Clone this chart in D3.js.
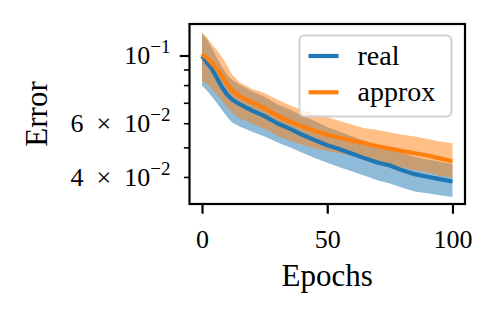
<!DOCTYPE html>
<html>
<head>
<meta charset="utf-8">
<script src="https://cdn.jsdelivr.net/npm/d3@7"></script>
<style>
  body { margin: 0; background: #fff; }
  text { font-family: "Liberation Serif", "DejaVu Serif", serif; fill: #000; }
</style>
</head>
<body>
<div class="chart"></div>
<script>
// data
var epochs   = [0, 2, 4, 6, 8, 10, 12, 15, 20, 25, 30, 35, 40, 45, 50, 55, 60, 65, 70, 75, 80, 85, 90, 95, 100];
var realMean = [0.1000, 0.0950, 0.0905, 0.0845, 0.0790, 0.0748, 0.0720, 0.0695, 0.0662, 0.0635, 0.0602, 0.0578, 0.0552, 0.0530, 0.0510, 0.0495, 0.0478, 0.0462, 0.0448, 0.0438, 0.0422, 0.0410, 0.0402, 0.0395, 0.0388];
var realLo   = [0.0800, 0.0770, 0.0735, 0.0700, 0.0665, 0.0632, 0.0605, 0.0588, 0.0565, 0.0545, 0.0522, 0.0502, 0.0482, 0.0463, 0.0447, 0.0432, 0.0418, 0.0405, 0.0392, 0.0382, 0.0370, 0.0360, 0.0355, 0.0350, 0.0345];
var realHi   = [0.1190, 0.1130, 0.1060, 0.0985, 0.0920, 0.0870, 0.0835, 0.0805, 0.0765, 0.0735, 0.0695, 0.0668, 0.0638, 0.0612, 0.0585, 0.0565, 0.0545, 0.0527, 0.0510, 0.0497, 0.0480, 0.0467, 0.0458, 0.0450, 0.0442];
var apxMean  = [0.1015, 0.0985, 0.0945, 0.0905, 0.0860, 0.0810, 0.0772, 0.0738, 0.0705, 0.0675, 0.0637, 0.0610, 0.0588, 0.0568, 0.0552, 0.0540, 0.0528, 0.0518, 0.0506, 0.0497, 0.0488, 0.0480, 0.0472, 0.0462, 0.0452];
var apxLo    = [0.0825, 0.0810, 0.0780, 0.0745, 0.0715, 0.0680, 0.0652, 0.0625, 0.0600, 0.0578, 0.0548, 0.0528, 0.0512, 0.0498, 0.0488, 0.0480, 0.0470, 0.0460, 0.0450, 0.0440, 0.0430, 0.0422, 0.0415, 0.0405, 0.0399];
var apxHi    = [0.1190, 0.1150, 0.1090, 0.1045, 0.0990, 0.0930, 0.0870, 0.0820, 0.0780, 0.0755, 0.0720, 0.0690, 0.0665, 0.0645, 0.0630, 0.0612, 0.0595, 0.0580, 0.0572, 0.0562, 0.0552, 0.0545, 0.0535, 0.0525, 0.0518];

var xTicks = [0, 50, 100];
var yMajor = [0.1];
var yMinor = [0.04, 0.05, 0.06, 0.07, 0.08, 0.09];
var yLabels = [
    {v: 0.1, pre: "", exp: "\u22121"},
    {v: 0.06, pre: "6\u2002\u00d7\u2002", exp: "\u22122"},
    {v: 0.04, pre: "4\u2002\u00d7\u2002", exp: "\u22122"}
];
var xLim = [-5, 105];
var yLim = [0.03274, 0.1273];

var series = [
    {name: "real", color: "#1f77b4", band: "rgba(31,119,180,0.5)", mean: realMean, lo: realLo, hi: realHi},
    {name: "approx", color: "#ff7f0e", band: "rgba(255,127,14,0.5)", mean: apxMean, lo: apxLo, hi: apxHi}
];

var W = 499, H = 317;
var margin = {top: 24, right: 34, bottom: 113, left: 189.5},
    width = W - margin.left - margin.right,
    height = H - margin.top - margin.bottom;

var svg = d3.select(".chart").append("svg")
    .attr("width", W)
    .attr("height", H);

var g = svg.append("g")
    .attr("transform", "translate(" + margin.left + "," + margin.top + ")");

var x = d3.scaleLinear().domain(xLim).range([0, width]);
var y = d3.scaleLog().domain(yLim).range([height, 0]);

g.append("clipPath").attr("id", "clip")
    .append("rect").attr("width", width).attr("height", height);

var plot = g.append("g").attr("clip-path", "url(#clip)");

// bands first, then lines (matplotlib zorder)
series.forEach(function(s){
    var area = d3.area()
        .x(function(d, i){ return x(epochs[i]); })
        .y0(function(d, i){ return y(s.lo[i]); })
        .y1(function(d, i){ return y(s.hi[i]); });
    plot.append("path")
        .datum(epochs)
        .attr("d", area)
        .attr("fill", s.band)
        .attr("stroke", "none");
});

series.forEach(function(s){
    var line = d3.line()
        .x(function(d, i){ return x(epochs[i]); })
        .y(function(d, i){ return y(s.mean[i]); });
    plot.append("path")
        .datum(epochs)
        .attr("d", line)
        .attr("fill", "none")
        .attr("stroke", s.color)
        .attr("stroke-width", 4.2)
        .attr("stroke-linejoin", "round");
});

// x axis
var xAxis = d3.axisBottom(x).tickValues(xTicks).tickSize(9.7).tickPadding(6).tickFormat(d3.format("d"));
var gx = g.append("g").attr("transform", "translate(0," + height + ")").call(xAxis);
gx.select(".domain").remove();
gx.selectAll("line").attr("stroke", "#000").attr("stroke-width", 2.2);
gx.selectAll("text").attr("font-size", 26).attr("dy", null).attr("y", 43.5);

// y axis: major + minor ticks
var gy = g.append("g");
gy.selectAll(".major").data(yMajor).enter().append("line")
    .attr("x1", -9.7).attr("x2", 0)
    .attr("y1", function(d){ return y(d); }).attr("y2", function(d){ return y(d); })
    .attr("stroke", "#000").attr("stroke-width", 2.2);
gy.selectAll(".minor").data(yMinor).enter().append("line")
    .attr("x1", -5.6).attr("x2", 0)
    .attr("y1", function(d){ return y(d); }).attr("y2", function(d){ return y(d); })
    .attr("stroke", "#000").attr("stroke-width", 1.6);

var lab = gy.selectAll(".ylab").data(yLabels).enter().append("text")
    .attr("text-anchor", "end")
    .attr("x", -19)
    .attr("y", function(d){ return y(d.v) + 8.5; })
    .attr("font-size", 26);
lab.append("tspan").text(function(d){ return d.pre + "10"; });
lab.append("tspan").attr("dy", -11).attr("font-size", 19).text(function(d){ return d.exp; });

// frame
g.append("rect")
    .attr("width", width).attr("height", height)
    .attr("fill", "none").attr("stroke", "#000").attr("stroke-width", 2.2);

// axis labels
svg.append("text")
    .attr("x", margin.left + width / 2).attr("y", 286)
    .attr("text-anchor", "middle").attr("font-size", 31)
    .text("Epochs");
svg.append("text")
    .attr("transform", "translate(47," + (margin.top + height / 2) + ") rotate(-90)")
    .attr("text-anchor", "middle").attr("font-size", 31)
    .text("Error");

// legend
var leg = svg.append("g").attr("transform", "translate(299.5,35.5)");
leg.append("rect")
    .attr("width", 152).attr("height", 81).attr("rx", 5).attr("ry", 5)
    .attr("fill", "rgba(255,255,255,0.8)")
    .attr("stroke", "rgba(204,204,204,0.9)").attr("stroke-width", 2);
series.forEach(function(s, i){
    var ly = 20.5 + i * 36.3;
    leg.append("line")
        .attr("x1", 9).attr("x2", 39).attr("y1", ly).attr("y2", ly)
        .attr("stroke", s.color).attr("stroke-width", 4.2);
    leg.append("text")
        .attr("x", 58).attr("y", ly + 9)
        .attr("font-size", 28)
        .text(s.name);
});
</script>
</body>
</html>
